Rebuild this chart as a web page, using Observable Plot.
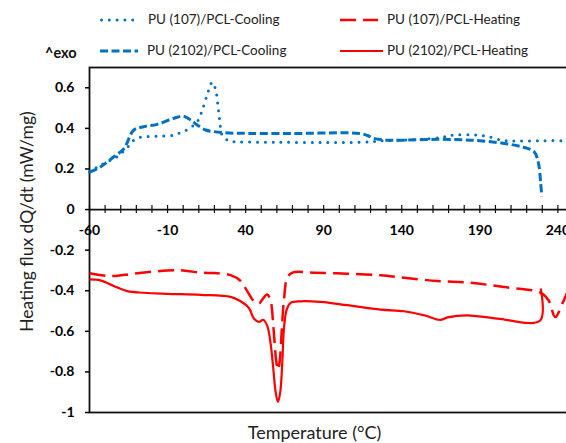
<!DOCTYPE html>
<html>
<head>
<meta charset="utf-8">
<script src="https://cdn.jsdelivr.net/npm/d3@7"></script>
<script src="https://cdn.jsdelivr.net/npm/@observablehq/plot@0.6"></script>
<style>
  html, body { margin: 0; padding: 0; width: 566px; height: 443px; overflow: hidden; background: #fff; }
  #wrap { position: relative; width: 566px; height: 443px; font-family: Lato, "Open Sans", sans-serif; }
  #legend { position: absolute; left: 0; top: 0; width: 566px; height: 62px; }
  .li { position: absolute; white-space: nowrap; font-size: 13.5px; line-height: 18px; color: #222; }
  .lm { position: absolute; }
  #exo { position: absolute; left: 45px; top: 44px; font-size: 14.5px; font-weight: bold; line-height: 18px; color: #111; }
  #chart { position: absolute; left: 0; top: 62px; width: 600px; }
  #chart svg { max-width: none !important; }
</style>
</head>
<body>
<div id="wrap">
  <div id="legend"></div>
  <div id="chart"></div>
</div>
<script>
// ---- Data (temperature °C, heat flux mW/mg) ----
const pu107Cooling = [
  [-60,0.185],[-55,0.21],[-48.7,0.235],[-42.3,0.26],[-35.8,0.306],[-31.6,0.342],[-27.3,0.356],
  [-16.7,0.362],[-6,0.367],[0,0.385],[4,0.40],[9,0.433],[12.2,0.49],[15.4,0.566],[18.6,0.627],
  [20.8,0.59],[22.3,0.51],[23.5,0.433],[25,0.367],[29.3,0.339],[35,0.334],[60,0.332],[90,0.33],
  [115,0.332],[130,0.34],[150,0.345],[165,0.355],[172,0.366],[185,0.368],[195,0.36],[205,0.34],
  [215,0.338],[230,0.339],[243,0.338],[246,0.33],[250,0.325]
];
const pu2102Cooling = [
  [-60,0.185],[-53,0.21],[-44.4,0.26],[-38,0.30],[-31.6,0.392],[-25.2,0.408],[-16.7,0.42],
  [-6,0.45],[0,0.46],[4.7,0.442],[9,0.417],[14.4,0.392],[19.7,0.384],[26,0.379],[35,0.376],
  [70,0.375],[113,0.375],[118,0.365],[122,0.351],[130,0.342],[141.5,0.342],[162.8,0.346],
  [184,0.342],[205.6,0.326],[218.4,0.306],[224.8,0.285],[227.6,0.227],[229,0.128],[229.7,0.065]
];
const pu107Heating = [
  [-60,-0.314],[-46.5,-0.328],[-31.6,-0.316],[-10.2,-0.30],[0,-0.30],[11.2,-0.311],[19.7,-0.313],
  [30.4,-0.323],[36.8,-0.352],[41,-0.402],[45.3,-0.452],[48.5,-0.463],[51,-0.44],[53.8,-0.418],
  [56,-0.45],[57.8,-0.58],[59.5,-0.74],[60.7,-0.79],[61.8,-0.75],[63.1,-0.60],[64.6,-0.44],
  [66.7,-0.336],[70,-0.311],[83.8,-0.311],[105,-0.316],[126.5,-0.324],[141.5,-0.336],
  [162.9,-0.352],[184,-0.361],[205.6,-0.382],[229,-0.41],[234,-0.447],[238.3,-0.53],[243,-0.46],[247,-0.39]
];
const pu2102Heating = [
  [-60,-0.344],[-53,-0.349],[-44.4,-0.377],[-35.8,-0.402],[-25.2,-0.41],[-10.2,-0.415],[11.2,-0.420],
  [30.4,-0.430],[36.8,-0.452],[42.1,-0.485],[45.3,-0.537],[48.5,-0.554],[51.2,-0.543],[53.8,-0.572],
  [56,-0.66],[57.7,-0.783],[59.2,-0.898],[60.7,-0.948],[62.2,-0.898],[63.5,-0.749],[64.5,-0.59],
  [66.3,-0.493],[68.8,-0.46],[75,-0.452],[88,-0.455],[105,-0.471],[126.5,-0.493],[141.5,-0.501],
  [154.3,-0.521],[164.6,-0.544],[169.3,-0.531],[182,-0.521],[201.3,-0.537],[228.6,-0.547],[229,-0.389]
];

const seriesNames = ["PU (107)/PCL-Cooling", "PU (2102)/PCL-Cooling", "PU (107)/PCL-Heating", "PU (2102)/PCL-Heating"];
const xTickValues = [-60, -10, 40, 90, 140, 190, 240];
const xTickLabels = ["-60", "-10", "40", "90", "140", "190", "240"];
const xMinorTicks = d3.range(-60, 251, 10);
const yTickValues = [-1, -0.8, -0.6, -0.4, -0.2, 0, 0.2, 0.4, 0.6];
const yTickLabels = ["-1", "-0.8", "-0.6", "-0.4", "-0.2", "0", "0.2", "0.4", "0.6"];
const xLabel = "Temperature (°C)";
const yLabel = "Heating flux dQ/dt (mW/mg)";
const exoLabel = "^exo";

const BLUE = "#0070C0", RED = "#FF0000";
const styles = [
  {stroke: BLUE, strokeWidth: 3, strokeDasharray: "0,7.8", strokeLinecap: "round"},
  {stroke: BLUE, strokeWidth: 3, strokeDasharray: "8,3.5", strokeLinecap: "butt"},
  {stroke: RED, strokeWidth: 2.5, strokeDasharray: "16,7", strokeLinecap: "butt"},
  {stroke: RED, strokeWidth: 2.2, strokeDasharray: null, strokeLinecap: "butt"}
];
const seriesData = [pu107Cooling, pu2102Cooling, pu107Heating, pu2102Heating];

// ---- Legend ----
const legendPos = [
  {mx: 100, mw: 37, tx: 148, cy: 20},
  {mx: 100, mw: 38, tx: 147, cy: 51},
  {mx: 340, mw: 38, tx: 387, cy: 20},
  {mx: 340, mw: 43, tx: 387, cy: 51}
];
const legend = document.getElementById("legend");
seriesNames.forEach((name, i) => {
  const p = legendPos[i], s = styles[i];
  const svgNS = "http://www.w3.org/2000/svg";
  const m = document.createElementNS(svgNS, "svg");
  m.setAttribute("class", "lm");
  m.setAttribute("width", p.mw + 4);
  m.setAttribute("height", 8);
  m.style.left = (p.mx - 2) + "px";
  m.style.top = (p.cy - 4) + "px";
  const l = document.createElementNS(svgNS, "line");
  l.setAttribute("x1", s.strokeLinecap === "round" ? 3.5 : 2);
  l.setAttribute("x2", p.mw + 2);
  l.setAttribute("y1", 4); l.setAttribute("y2", 4);
  l.setAttribute("stroke", s.stroke);
  l.setAttribute("stroke-width", s.strokeWidth);
  l.setAttribute("stroke-linecap", s.strokeLinecap);
  if (s.strokeDasharray) l.setAttribute("stroke-dasharray", s.strokeDasharray);
  m.appendChild(l);
  legend.appendChild(m);
  const t = document.createElement("div");
  t.className = "li";
  t.textContent = name;
  t.style.left = p.tx + "px";
  t.style.top = (p.cy - 10) + "px";
  legend.appendChild(t);
});
const exo = document.createElement("div");
exo.id = "exo";
exo.textContent = exoLabel;
legend.appendChild(exo);

// ---- Chart ----
const chart = Plot.plot({
  width: 573,
  height: 381,
  marginLeft: 89,
  marginRight: 0,
  marginTop: 5,
  marginBottom: 31,
  style: {fontFamily: "Lato, 'Open Sans', sans-serif", color: "#000", background: "transparent", overflow: "visible", maxWidth: "none"},
  x: {domain: [-60, 250], axis: null},
  y: {domain: [-1, 0.7], axis: null},
  marks: [
    Plot.frame({stroke: "#111", strokeWidth: 1.8}),
    Plot.axisY(yTickValues, {
      tickSize: 4, tickPadding: 11, strokeWidth: 1.5,
      tickFormat: (d) => yTickLabels[yTickValues.indexOf(d)],
      fontSize: 14, fontWeight: "bold", label: null
    }),
    Plot.ruleY([0], {stroke: "#111", strokeWidth: 1.8}),
    Plot.ruleX(xMinorTicks, {x: d => d, y1: -0.02, y2: 0.02, stroke: "#111", strokeWidth: 1.2}),
    Plot.text(xTickValues, {x: d => d, y: () => 0, text: (d, i) => xTickLabels[i], dy: 21,
      fontSize: 14, fontWeight: "bold", fill: "#000"}),
    ...seriesData.map((data, i) => Plot.line(data, {
      x: d => d[0], y: d => d[1], curve: "catmull-rom",
      stroke: styles[i].stroke, strokeWidth: styles[i].strokeWidth,
      strokeDasharray: styles[i].strokeDasharray || undefined,
      strokeLinecap: styles[i].strokeLinecap, strokeLinejoin: "round"
    })),
    Plot.text([yLabel], {frameAnchor: "left", textAnchor: "middle", lineAnchor: "middle",
      rotate: -90, dx: -62, dy: -18.5, fontSize: 17.5, fill: "#222", text: d => d}),
    Plot.text([xLabel], {frameAnchor: "bottom", textAnchor: "middle", lineAnchor: "middle",
      dx: -17, dy: 21, fontSize: 18, fill: "#222", text: d => d})
  ]
});
chart.style.maxWidth = "none";
document.getElementById("chart").appendChild(chart);
</script>
</body>
</html>
